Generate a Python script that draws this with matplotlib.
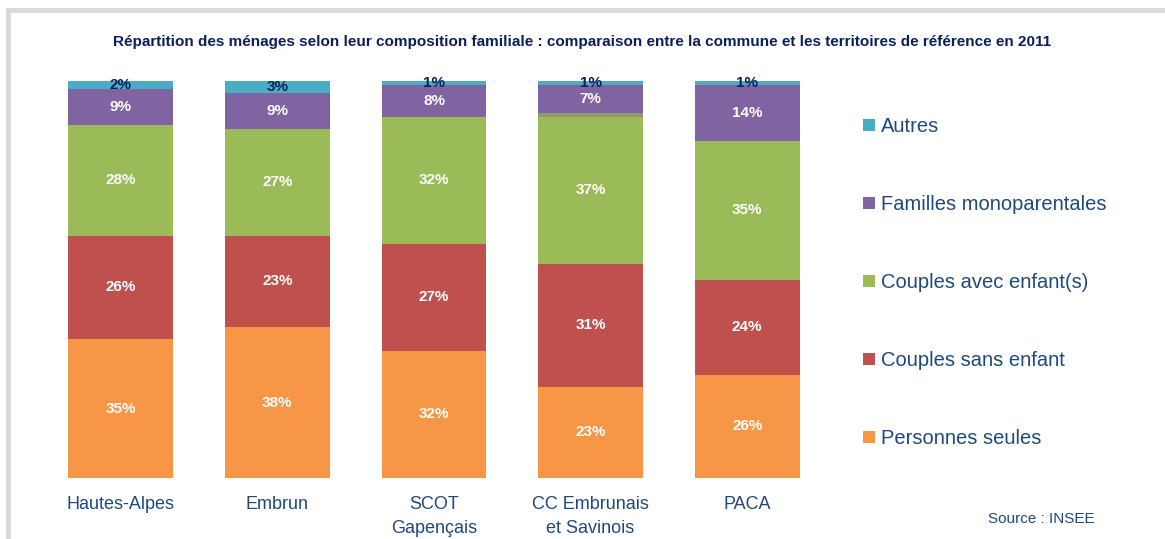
import matplotlib.pyplot as plt
from matplotlib.lines import Line2D
import numpy as np

plt.rcParams['font.family'] = ['Liberation Sans', 'DejaVu Sans']

territoires = ["Hautes-Alpes", "Embrun", "SCOT\nGapençais", "CC Embrunais\net Savinois", "PACA"]

# parts des ménages (%) par type, de bas en haut
personnes_seules = [35, 38, 32, 23, 26]
couples_sans_enfant = [26, 23, 27, 31, 24]
couples_avec_enfants = [28, 27, 32, 37, 35]
non_renseigne = [0, 0, 0, 1, 0]
familles_mono = [9, 9, 8, 7, 14]
autres = [2, 3, 1, 1, 1]

series = [
    ("Personnes seules", personnes_seules, "#F79646", "white"),
    ("Couples sans enfant", couples_sans_enfant, "#C0504D", "white"),
    ("Couples avec enfant(s)", couples_avec_enfants, "#9BBB59", "white"),
    (None, non_renseigne, "#8f9b6b", None),
    ("Familles monoparentales", familles_mono, "#8064A2", "white"),
    ("Autres", autres, "#4BACC6", "#0b1f5c"),
]

fig = plt.figure(figsize=(11.65, 5.39), dpi=100)
ax = fig.add_axes([42.5 / 1165, 61 / 539, 783 / 1165, 397 / 539])

x = np.arange(len(territoires))
bottom = np.zeros(len(territoires))
for name, vals, color, tcol in series:
    vals = np.array(vals, dtype=float)
    ax.bar(x, vals, width=0.67, bottom=bottom, color=color, linewidth=0)
    if tcol is not None:
        for xi, b, v in zip(x, bottom, vals):
            if v > 0:
                ax.text(xi, b + v / 2, f"{int(v)}%", ha="center", va="center",
                        fontsize=11, color=tcol, fontweight="bold")
    bottom += vals

ax.set_xlim(-0.5, len(territoires) - 0.5)
ax.set_ylim(0, 100)
ax.set_yticks([])
ax.set_xticks(x)
ax.set_xticklabels(territoires, fontsize=13, color="#1F497D", va="top", linespacing=1.5)
ax.tick_params(axis="x", length=0, pad=13)
for s in ax.spines.values():
    s.set_visible(False)

fig.text(0.5, 1 - 42 / 539, "Répartition des ménages selon leur composition familiale : comparaison "
         "entre la commune et les territoires de référence en 2011",
         ha="center", va="center", fontsize=11, fontweight="bold", color="#0b1f5c")

# légende, de haut en bas
legend_items = [s for s in reversed(series) if s[0] is not None]
handles = [Line2D([0], [0], marker="s", linestyle="none", markersize=8,
                  markerfacecolor=c, markeredgewidth=0) for _, _, c, _ in legend_items]
fig.legend(handles, [n for n, _, _, _ in legend_items], loc="upper left",
           bbox_to_anchor=(843 / 1165, 1 - 99 / 539), frameon=False,
           fontsize=14.5, labelcolor="#1F497D", labelspacing=2.93,
           handletextpad=0.2, handlelength=0.8)

fig.text(1095 / 1165, 1 - 519 / 539, "Source : INSEE", ha="right", va="center",
         fontsize=11, color="#1F497D")

# cadre gris
fig.add_artist(Line2D([8 / 1165, 8 / 1165], [0, 1 - 10 / 539], color="#d9d9d9", lw=3.5,
                      transform=fig.transFigure))
fig.add_artist(Line2D([8 / 1165, 1], [1 - 10 / 539, 1 - 10 / 539], color="#d9d9d9", lw=3.5,
                      transform=fig.transFigure))

fig.savefig("out.png", dpi=100)
